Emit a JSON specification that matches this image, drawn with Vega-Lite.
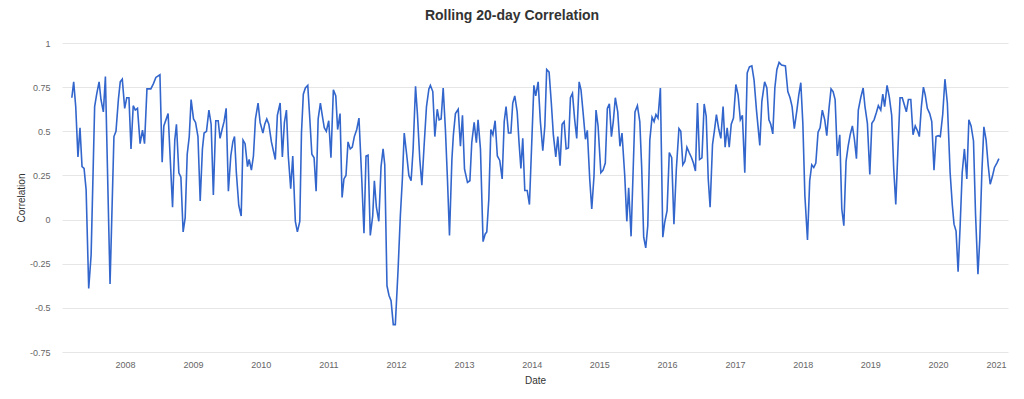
{
"$schema": "https://vega.github.io/schema/vega-lite/v6.json",
"width": 946, "height": 309,
"autosize": {"type": "none"},
"padding": {"left": 62, "top": 43, "right": 16, "bottom": 47},
"background": "white",
"title": {"text": "Rolling 20-day Correlation", "fontSize": 14, "font": "Liberation Sans", "fontWeight": "bold", "color": "#333333", "anchor": "middle", "dx": -23, "offset": 16},
"data": {"values": [
{"date":"2007-03-20","corr":0.69},{"date":"2007-03-30","corr":0.78},{"date":"2007-04-10","corr":0.64},{"date":"2007-04-22","corr":0.355},{"date":"2007-05-03","corr":0.52},{"date":"2007-05-14","corr":0.30},{"date":"2007-05-25","corr":0.29},{"date":"2007-06-05","corr":0.17},{"date":"2007-06-19","corr":-0.39},{"date":"2007-07-02","corr":-0.2},{"date":"2007-07-21","corr":0.64},{"date":"2007-08-01","corr":0.71},{"date":"2007-08-14","corr":0.78},{"date":"2007-08-24","corr":0.68},{"date":"2007-09-06","corr":0.61},{"date":"2007-09-17","corr":0.81},{"date":"2007-10-12","corr":-0.365},{"date":"2007-11-02","corr":0.47},{"date":"2007-11-13","corr":0.50},{"date":"2007-11-26","corr":0.68},{"date":"2007-12-06","corr":0.78},{"date":"2007-12-17","corr":0.795},{"date":"2007-12-30","corr":0.63},
{"date":"2008-01-10","corr":0.69},{"date":"2008-01-22","corr":0.69},{"date":"2008-02-02","corr":0.40},{"date":"2008-02-14","corr":0.645},{"date":"2008-02-25","corr":0.62},{"date":"2008-03-08","corr":0.63},{"date":"2008-03-22","corr":0.43},{"date":"2008-04-04","corr":0.506},{"date":"2008-04-15","corr":0.43},{"date":"2008-04-28","corr":0.74},{"date":"2008-05-19","corr":0.74},{"date":"2008-06-02","corr":0.77},{"date":"2008-06-15","corr":0.805},{"date":"2008-07-07","corr":0.82},{"date":"2008-07-19","corr":0.325},{"date":"2008-07-28","corr":0.53},{"date":"2008-08-20","corr":0.60},{"date":"2008-09-13","corr":0.07},{"date":"2008-09-25","corr":0.45},{"date":"2008-10-04","corr":0.54},{"date":"2008-10-17","corr":0.265},{"date":"2008-10-28","corr":0.24},{"date":"2008-11-09","corr":-0.07},{"date":"2008-11-20","corr":0.01},{"date":"2008-12-01","corr":0.37},{"date":"2008-12-12","corr":0.47},{"date":"2008-12-22","corr":0.68},
{"date":"2009-01-04","corr":0.57},{"date":"2009-01-15","corr":0.55},{"date":"2009-01-28","corr":0.47},{"date":"2009-02-09","corr":0.105},{"date":"2009-02-21","corr":0.40},{"date":"2009-03-02","corr":0.49},{"date":"2009-03-15","corr":0.50},{"date":"2009-03-28","corr":0.62},{"date":"2009-04-09","corr":0.54},{"date":"2009-04-21","corr":0.14},{"date":"2009-05-04","corr":0.56},{"date":"2009-05-17","corr":0.56},{"date":"2009-05-27","corr":0.46},{"date":"2009-06-07","corr":0.51},{"date":"2009-06-18","corr":0.556},{"date":"2009-06-29","corr":0.63},{"date":"2009-07-11","corr":0.16},{"date":"2009-07-24","corr":0.36},{"date":"2009-08-04","corr":0.44},{"date":"2009-08-13","corr":0.47},{"date":"2009-08-23","corr":0.265},{"date":"2009-09-05","corr":0.08},{"date":"2009-09-18","corr":0.02},{"date":"2009-09-28","corr":0.45},{"date":"2009-10-09","corr":0.43},{"date":"2009-10-22","corr":0.30},{"date":"2009-10-31","corr":0.34},{"date":"2009-11-12","corr":0.28},{"date":"2009-11-23","corr":0.36},{"date":"2009-12-04","corr":0.57},{"date":"2009-12-18","corr":0.66},{"date":"2009-12-29","corr":0.55},
{"date":"2010-01-13","corr":0.49},{"date":"2010-01-23","corr":0.54},{"date":"2010-02-03","corr":0.57},{"date":"2010-02-14","corr":0.54},{"date":"2010-02-28","corr":0.44},{"date":"2010-03-21","corr":0.34},{"date":"2010-04-01","corr":0.59},{"date":"2010-04-16","corr":0.66},{"date":"2010-04-28","corr":0.355},{"date":"2010-05-09","corr":0.55},{"date":"2010-05-20","corr":0.62},{"date":"2010-05-30","corr":0.36},{"date":"2010-06-12","corr":0.175},{"date":"2010-06-23","corr":0.36},{"date":"2010-07-07","corr":-0.01},{"date":"2010-07-18","corr":-0.07},{"date":"2010-07-31","corr":-0.01},{"date":"2010-08-09","corr":0.49},{"date":"2010-08-19","corr":0.71},{"date":"2010-08-30","corr":0.745},{"date":"2010-09-12","corr":0.76},{"date":"2010-09-23","corr":0.57},{"date":"2010-10-04","corr":0.37},{"date":"2010-10-16","corr":0.35},{"date":"2010-10-27","corr":0.16},{"date":"2010-11-07","corr":0.57},{"date":"2010-11-19","corr":0.66},{"date":"2010-11-30","corr":0.585},{"date":"2010-12-10","corr":0.52},{"date":"2010-12-21","corr":0.50},
{"date":"2011-01-03","corr":0.56},{"date":"2011-01-15","corr":0.35},{"date":"2011-01-28","corr":0.735},{"date":"2011-02-10","corr":0.70},{"date":"2011-02-20","corr":0.51},{"date":"2011-03-05","corr":0.60},{"date":"2011-03-16","corr":0.125},{"date":"2011-03-26","corr":0.23},{"date":"2011-04-06","corr":0.25},{"date":"2011-04-17","corr":0.44},{"date":"2011-04-29","corr":0.40},{"date":"2011-05-10","corr":0.41},{"date":"2011-05-21","corr":0.47},{"date":"2011-06-03","corr":0.51},{"date":"2011-06-15","corr":0.575},{"date":"2011-06-30","corr":0.23},{"date":"2011-07-12","corr":-0.077},{"date":"2011-07-23","corr":0.36},{"date":"2011-08-03","corr":0.365},{"date":"2011-08-15","corr":-0.09},{"date":"2011-08-28","corr":0.02},{"date":"2011-09-06","corr":0.22},{"date":"2011-09-17","corr":0.07},{"date":"2011-09-30","corr":-0.01},{"date":"2011-10-12","corr":0.30},{"date":"2011-10-23","corr":0.40},{"date":"2011-11-01","corr":0.31},{"date":"2011-11-13","corr":-0.375},{"date":"2011-11-24","corr":-0.43},{"date":"2011-12-05","corr":-0.46},{"date":"2011-12-17","corr":-0.595},{"date":"2011-12-28","corr":-0.595},
{"date":"2012-01-12","corr":-0.28},{"date":"2012-01-24","corr":0.02},{"date":"2012-02-04","corr":0.23},{"date":"2012-02-14","corr":0.49},{"date":"2012-02-27","corr":0.37},{"date":"2012-03-10","corr":0.25},{"date":"2012-03-22","corr":0.22},{"date":"2012-04-02","corr":0.40},{"date":"2012-04-15","corr":0.755},{"date":"2012-04-25","corr":0.60},{"date":"2012-05-08","corr":0.34},{"date":"2012-05-19","corr":0.195},{"date":"2012-05-31","corr":0.415},{"date":"2012-06-13","corr":0.64},{"date":"2012-06-26","corr":0.74},{"date":"2012-07-04","corr":0.76},{"date":"2012-07-17","corr":0.725},{"date":"2012-07-28","corr":0.47},{"date":"2012-08-10","corr":0.625},{"date":"2012-08-20","corr":0.565},{"date":"2012-08-31","corr":0.57},{"date":"2012-09-11","corr":0.745},{"date":"2012-09-23","corr":0.51},{"date":"2012-10-04","corr":0.23},{"date":"2012-10-15","corr":-0.09},{"date":"2012-10-28","corr":0.34},{"date":"2012-11-05","corr":0.48},{"date":"2012-11-16","corr":0.60},{"date":"2012-12-01","corr":0.625},{"date":"2012-12-13","corr":0.415},{"date":"2012-12-24","corr":0.59},
{"date":"2013-01-04","corr":0.285},{"date":"2013-01-20","corr":0.21},{"date":"2013-02-02","corr":0.22},{"date":"2013-02-12","corr":0.435},{"date":"2013-02-25","corr":0.55},{"date":"2013-03-09","corr":0.435},{"date":"2013-03-18","corr":0.565},{"date":"2013-03-31","corr":0.40},{"date":"2013-04-14","corr":-0.125},{"date":"2013-04-25","corr":-0.083},{"date":"2013-05-04","corr":-0.07},{"date":"2013-05-15","corr":0.115},{"date":"2013-05-26","corr":0.51},{"date":"2013-06-06","corr":0.48},{"date":"2013-06-18","corr":0.56},{"date":"2013-06-30","corr":0.36},{"date":"2013-07-13","corr":0.335},{"date":"2013-07-26","corr":0.23},{"date":"2013-08-06","corr":0.555},{"date":"2013-08-16","corr":0.64},{"date":"2013-08-29","corr":0.49},{"date":"2013-09-11","corr":0.49},{"date":"2013-09-21","corr":0.66},{"date":"2013-10-02","corr":0.70},{"date":"2013-10-15","corr":0.61},{"date":"2013-10-25","corr":0.435},{"date":"2013-11-04","corr":0.29},{"date":"2013-11-14","corr":0.46},{"date":"2013-11-25","corr":0.165},{"date":"2013-12-08","corr":0.165},{"date":"2013-12-20","corr":0.085},
{"date":"2014-01-13","corr":0.76},{"date":"2014-01-23","corr":0.70},{"date":"2014-02-05","corr":0.78},{"date":"2014-02-17","corr":0.555},{"date":"2014-03-02","corr":0.39},{"date":"2014-03-13","corr":0.53},{"date":"2014-03-23","corr":0.85},{"date":"2014-04-05","corr":0.835},{"date":"2014-04-17","corr":0.66},{"date":"2014-04-28","corr":0.48},{"date":"2014-05-11","corr":0.355},{"date":"2014-05-22","corr":0.47},{"date":"2014-06-03","corr":0.305},{"date":"2014-06-14","corr":0.54},{"date":"2014-06-25","corr":0.555},{"date":"2014-07-06","corr":0.40},{"date":"2014-07-18","corr":0.405},{"date":"2014-07-29","corr":0.69},{"date":"2014-08-09","corr":0.715},{"date":"2014-08-21","corr":0.565},{"date":"2014-09-01","corr":0.46},{"date":"2014-09-14","corr":0.78},{"date":"2014-09-24","corr":0.735},{"date":"2014-10-05","corr":0.61},{"date":"2014-10-18","corr":0.455},{"date":"2014-10-28","corr":0.505},{"date":"2014-11-10","corr":0.23},{"date":"2014-11-21","corr":0.06},{"date":"2014-12-03","corr":0.245},{"date":"2014-12-14","corr":0.62},{"date":"2014-12-25","corr":0.53},
{"date":"2015-01-09","corr":0.265},{"date":"2015-01-21","corr":0.28},{"date":"2015-02-02","corr":0.32},{"date":"2015-02-13","corr":0.63},{"date":"2015-02-24","corr":0.655},{"date":"2015-03-07","corr":0.47},{"date":"2015-03-17","corr":0.555},{"date":"2015-03-28","corr":0.69},{"date":"2015-04-10","corr":0.61},{"date":"2015-04-22","corr":0.415},{"date":"2015-05-03","corr":0.49},{"date":"2015-05-18","corr":0.245},{"date":"2015-05-29","corr":-0.01},{"date":"2015-06-08","corr":0.18},{"date":"2015-06-21","corr":-0.095},{"date":"2015-07-12","corr":0.61},{"date":"2015-07-25","corr":0.645},{"date":"2015-08-07","corr":0.555},{"date":"2015-08-17","corr":0.30},{"date":"2015-08-28","corr":-0.10},{"date":"2015-09-08","corr":-0.16},{"date":"2015-09-19","corr":-0.035},{"date":"2015-09-30","corr":0.45},{"date":"2015-10-12","corr":0.58},{"date":"2015-10-23","corr":0.555},{"date":"2015-11-02","corr":0.595},{"date":"2015-11-13","corr":0.575},{"date":"2015-11-26","corr":0.745},{"date":"2015-12-09","corr":-0.10},{"date":"2015-12-19","corr":-0.017},
{"date":"2016-01-01","corr":0.05},{"date":"2016-01-13","corr":0.38},{"date":"2016-01-26","corr":0.35},{"date":"2016-02-07","corr":-0.026},{"date":"2016-02-20","corr":0.285},{"date":"2016-03-05","corr":0.515},{"date":"2016-03-15","corr":0.50},{"date":"2016-03-26","corr":0.31},{"date":"2016-04-06","corr":0.33},{"date":"2016-04-17","corr":0.41},{"date":"2016-04-29","corr":0.38},{"date":"2016-05-12","corr":0.35},{"date":"2016-05-22","corr":0.32},{"date":"2016-06-02","corr":0.275},{"date":"2016-06-13","corr":0.66},{"date":"2016-06-24","corr":0.34},{"date":"2016-07-07","corr":0.35},{"date":"2016-07-19","corr":0.655},{"date":"2016-07-30","corr":0.585},{"date":"2016-08-10","corr":0.23},{"date":"2016-08-20","corr":0.07},{"date":"2016-09-02","corr":0.425},{"date":"2016-09-13","corr":0.51},{"date":"2016-09-23","corr":0.595},{"date":"2016-10-06","corr":0.51},{"date":"2016-10-17","corr":0.46},{"date":"2016-10-29","corr":0.64},{"date":"2016-11-09","corr":0.41},{"date":"2016-11-20","corr":0.52},{"date":"2016-12-01","corr":0.41},{"date":"2016-12-12","corr":0.54},{"date":"2016-12-24","corr":0.575},
{"date":"2017-01-06","corr":0.765},{"date":"2017-01-18","corr":0.705},{"date":"2017-01-30","corr":0.565},{"date":"2017-02-10","corr":0.59},{"date":"2017-02-23","corr":0.265},{"date":"2017-03-08","corr":0.83},{"date":"2017-03-20","corr":0.865},{"date":"2017-04-02","corr":0.87},{"date":"2017-04-14","corr":0.79},{"date":"2017-04-27","corr":0.62},{"date":"2017-05-15","corr":0.42},{"date":"2017-05-26","corr":0.67},{"date":"2017-06-10","corr":0.78},{"date":"2017-06-22","corr":0.745},{"date":"2017-07-03","corr":0.565},{"date":"2017-07-13","corr":0.54},{"date":"2017-07-24","corr":0.485},{"date":"2017-08-04","corr":0.745},{"date":"2017-08-15","corr":0.85},{"date":"2017-08-27","corr":0.89},{"date":"2017-09-09","corr":0.875},{"date":"2017-09-30","corr":0.87},{"date":"2017-10-13","corr":0.725},{"date":"2017-10-25","corr":0.69},{"date":"2017-11-05","corr":0.64},{"date":"2017-11-17","corr":0.515},{"date":"2017-12-01","corr":0.62},{"date":"2017-12-11","corr":0.705},{"date":"2017-12-22","corr":0.775},
{"date":"2018-01-02","corr":0.545},{"date":"2018-01-13","corr":0.135},{"date":"2018-01-27","corr":-0.115},{"date":"2018-02-08","corr":0.22},{"date":"2018-02-19","corr":0.31},{"date":"2018-03-02","corr":0.295},{"date":"2018-03-13","corr":0.32},{"date":"2018-03-25","corr":0.495},{"date":"2018-04-05","corr":0.52},{"date":"2018-04-17","corr":0.62},{"date":"2018-04-30","corr":0.565},{"date":"2018-05-11","corr":0.475},{"date":"2018-05-23","corr":0.63},{"date":"2018-06-03","corr":0.74},{"date":"2018-06-14","corr":0.725},{"date":"2018-06-25","corr":0.68},{"date":"2018-07-07","corr":0.36},{"date":"2018-07-20","corr":0.48},{"date":"2018-07-31","corr":0.06},{"date":"2018-08-11","corr":-0.035},{"date":"2018-08-23","corr":0.33},{"date":"2018-09-03","corr":0.415},{"date":"2018-09-14","corr":0.48},{"date":"2018-09-26","corr":0.53},{"date":"2018-10-07","corr":0.455},{"date":"2018-10-18","corr":0.345},{"date":"2018-10-28","corr":0.62},{"date":"2018-11-10","corr":0.69},{"date":"2018-11-23","corr":0.745},{"date":"2018-12-03","corr":0.64},{"date":"2018-12-16","corr":0.545},{"date":"2018-12-29","corr":0.255},
{"date":"2019-01-09","corr":0.545},{"date":"2019-01-21","corr":0.565},{"date":"2019-02-02","corr":0.605},{"date":"2019-02-13","corr":0.645},{"date":"2019-02-26","corr":0.62},{"date":"2019-03-09","corr":0.71},{"date":"2019-03-19","corr":0.64},{"date":"2019-04-01","corr":0.76},{"date":"2019-04-13","corr":0.695},{"date":"2019-04-26","corr":0.59},{"date":"2019-05-07","corr":0.285},{"date":"2019-05-18","corr":0.085},{"date":"2019-05-30","corr":0.405},{"date":"2019-06-10","corr":0.69},{"date":"2019-06-22","corr":0.69},{"date":"2019-07-03","corr":0.65},{"date":"2019-07-14","corr":0.61},{"date":"2019-07-25","corr":0.68},{"date":"2019-08-07","corr":0.68},{"date":"2019-08-19","corr":0.48},{"date":"2019-08-31","corr":0.53},{"date":"2019-09-13","corr":0.50},{"date":"2019-09-22","corr":0.47},{"date":"2019-10-03","corr":0.64},{"date":"2019-10-14","corr":0.75},{"date":"2019-10-24","corr":0.705},{"date":"2019-11-04","corr":0.63},{"date":"2019-11-17","corr":0.60},{"date":"2019-11-28","corr":0.555},{"date":"2019-12-10","corr":0.28},{"date":"2019-12-21","corr":0.47},
{"date":"2020-01-02","corr":0.475},{"date":"2020-01-13","corr":0.47},{"date":"2020-01-26","corr":0.595},{"date":"2020-02-07","corr":0.795},{"date":"2020-02-20","corr":0.66},{"date":"2020-03-06","corr":0.265},{"date":"2020-03-18","corr":0.08},{"date":"2020-03-27","corr":-0.026},{"date":"2020-04-07","corr":-0.065},{"date":"2020-04-18","corr":-0.295},{"date":"2020-04-29","corr":-0.035},{"date":"2020-05-10","corr":0.265},{"date":"2020-05-22","corr":0.40},{"date":"2020-06-04","corr":0.23},{"date":"2020-06-15","corr":0.565},{"date":"2020-06-27","corr":0.53},{"date":"2020-07-10","corr":0.445},{"date":"2020-07-21","corr":0.03},{"date":"2020-08-03","corr":-0.31},{"date":"2020-08-13","corr":-0.11},{"date":"2020-08-24","corr":0.265},{"date":"2020-09-04","corr":0.525},{"date":"2020-09-16","corr":0.45},{"date":"2020-09-27","corr":0.31},{"date":"2020-10-08","corr":0.20},{"date":"2020-10-20","corr":0.245},{"date":"2020-10-31","corr":0.295},{"date":"2020-11-13","corr":0.32},{"date":"2020-11-24","corr":0.345}
]},
"mark": {"type": "line", "color": "#3366cc", "strokeWidth": 1.6, "interpolate": "linear"},
"encoding": {
"x": {"field": "date", "type": "temporal", "scale": {"domain": ["2007-01-26", "2021-01-12"]},
 "axis": {"title": "Date", "format": "%Y", "tickCount": {"interval": "year", "step": 1}, "grid": false, "domain": false, "ticks": false, "labelPadding": 8, "labelFontSize": 9, "labelColor": "#666666", "labelFont": "Liberation Sans", "titleFont": "Liberation Sans", "titleFontSize": 10, "titleFontWeight": "normal", "titleColor": "#333333", "titlePadding": 6, "labelFlush": 4}},
"y": {"field": "corr", "type": "quantitative", "scale": {"domain": [-0.75, 1], "nice": false, "zero": false},
 "axis": {"title": "Correlation", "values": [-0.75, -0.5, -0.25, 0, 0.25, 0.5, 0.75, 1], "labelExpr": "datum.value + ''", "grid": true, "gridColor": "#e6e6e6", "domain": false, "ticks": false, "labelPadding": 12, "labelFontSize": 9, "labelColor": "#666666", "labelFont": "Liberation Sans", "titleFont": "Liberation Sans", "titleFontSize": 10, "titleFontWeight": "normal", "titleColor": "#333333", "titlePadding": 3}}
},
"config": {"view": {"stroke": null}}
}
